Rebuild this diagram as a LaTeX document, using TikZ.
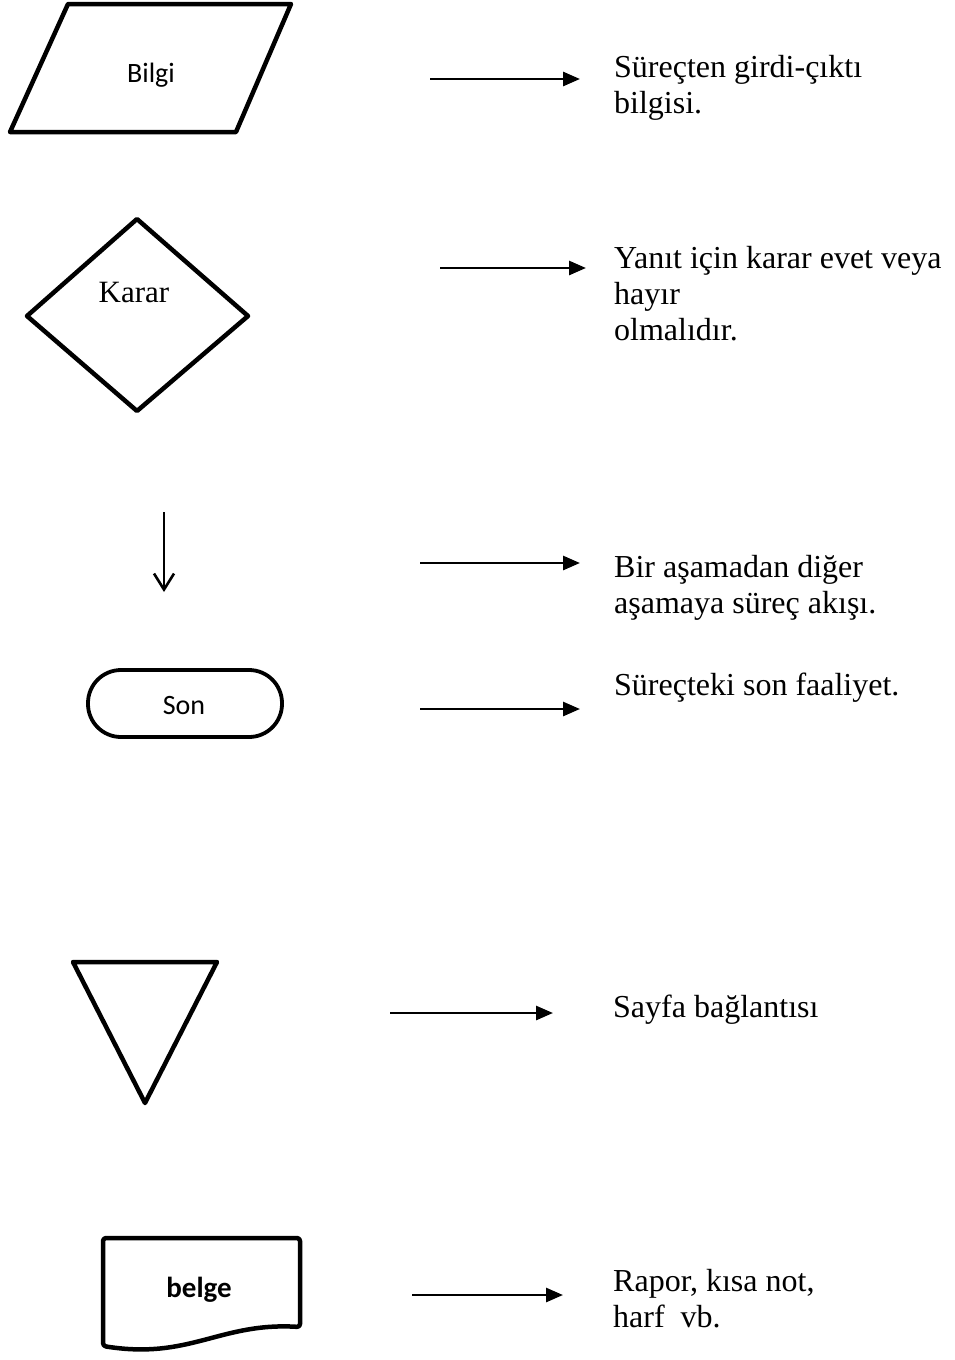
\documentclass[tikz,border=0pt]{standalone}
\usepackage{fontspec}
\setmainfont{Liberation Serif}
\newfontfamily\labelsans{Carlito}
\usetikzlibrary{arrows.meta}
\begin{document}
\begin{tikzpicture}[x=1pt,y=-1pt,
  shapeline/.style={line width=4.5pt, line join=round},
  legendarrow/.style={line width=2.8pt, -{Triangle[length=17pt,width=14pt]}},
  flowarrow/.style={line width=2.6pt, -{Straight Barb[length=16pt,width=20pt]}},
  % multi-line descriptions are placed by the baseline of their last line
  desc/.style={anchor=base west, inner sep=0pt, align=left, font=\fontsize{32}{36}\selectfont},
  symtext/.style={anchor=base, inner sep=0pt, font=\labelsans\fontsize{28}{32}\selectfont}]
\useasboundingbox (0,0) rectangle (954,1360);

% flowchart symbols
\draw[shapeline] (68,4) -- (291,4) -- (236,132) -- (10,132) -- cycle;
\draw[shapeline] (137,219) -- (248,316) -- (137,411) -- (27,316) -- cycle;
\draw[line width=3.8pt, rounded corners=33pt] (88,670) rectangle (282,737);
\draw[shapeline] (73,962) -- (217,962) -- (145,1103) -- cycle;
\draw[shapeline, rounded corners=3pt] (300,1327) .. controls (220,1322) and (190,1360) .. (103,1346)
  -- (103,1238) -- (300,1238) -- cycle;

% symbol labels
\node[symtext] (bilgi) at (151,82) {Bilgi};
\node[anchor=base, inner sep=0pt, font=\fontsize{31}{34}\selectfont] (karar) at (134,302) {Karar};
\node[symtext] (son) at (184,714) {Son};
\node[symtext, font=\labelsans\bfseries\fontsize{29}{34}\selectfont] (belge) at (199,1297) {belge};

% flow line symbol
\coordinate (f1) at (164,512);
\coordinate (f2) at (164,592);
\draw[flowarrow] (f1) -- (f2);

% descriptions
\node[desc] (d1) at (614,113) {Süreçten girdi-çıktı\\bilgisi.};
\node[desc] (d2) at (614,340) {Yanıt için karar evet veya\\hayır\\olmalıdır.};
\node[desc] (d3) at (614,613) {Bir aşamadan diğer\\aşamaya süreç akışı.};
\node[desc] (d4) at (614,695) {Süreçteki son faaliyet.};
\node[desc] (d5) at (613,1017) {Sayfa bağlantısı};
\node[desc] (d6) at (613,1327) {Rapor, kısa not,\\harf~ vb.};

% pointer arrows
\coordinate (a1s) at (430,79);   \coordinate (a1e) at (580,79);
\coordinate (a2s) at (440,268);  \coordinate (a2e) at (586,268);
\coordinate (a3s) at (420,563);  \coordinate (a3e) at (580,563);
\coordinate (a4s) at (420,709);  \coordinate (a4e) at (580,709);
\coordinate (a5s) at (390,1013); \coordinate (a5e) at (553,1013);
\coordinate (a6s) at (412,1295); \coordinate (a6e) at (563,1295);
\foreach \i in {1,...,6} \draw[legendarrow] (a\i s) -- (a\i e);
\end{tikzpicture}
\end{document}
